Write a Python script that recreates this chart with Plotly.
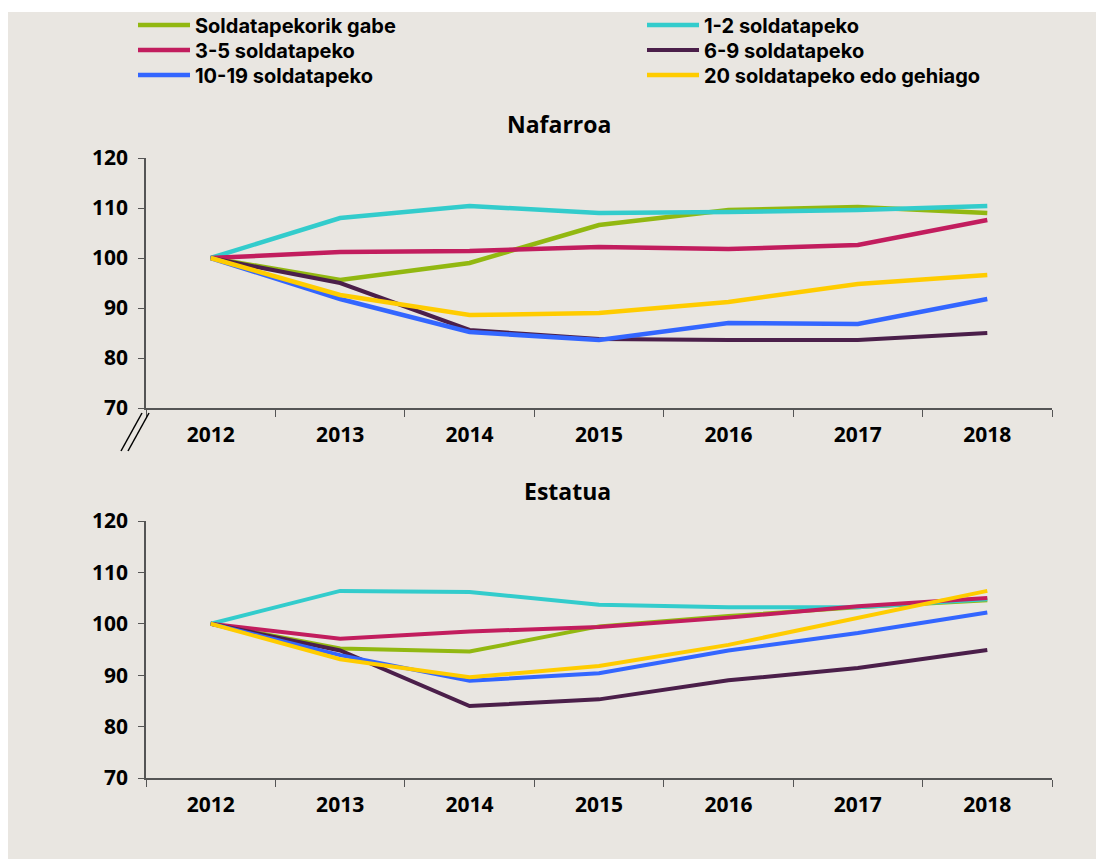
import plotly.graph_objects as go

years = ["2012", "2013", "2014", "2015", "2016", "2017", "2018"]

series_names = [
    "Soldatapekorik gabe",
    "1-2 soldatapeko",
    "3-5 soldatapeko",
    "6-9 soldatapeko",
    "10-19 soldatapeko",
    "20 soldatapeko edo gehiago",
]
series_colors = ["#92B811", "#33CCCC", "#C21D5E", "#4B1F4A", "#3366FF", "#FFCC00"]

nafarroa_gabe = [100, 95.6, 99.0, 106.6, 109.6, 110.2, 109.0]
nafarroa_1_2 = [100, 108.0, 110.4, 109.0, 109.2, 109.6, 110.4]
nafarroa_3_5 = [100, 101.2, 101.4, 102.2, 101.8, 102.6, 107.6]
nafarroa_6_9 = [100, 95.0, 85.6, 83.8, 83.6, 83.6, 85.0]
nafarroa_10_19 = [100, 91.8, 85.2, 83.6, 87.0, 86.8, 91.8]
nafarroa_20 = [100, 92.6, 88.6, 89.0, 91.2, 94.8, 96.6]

estatua_gabe = [100, 95.2, 94.6, 99.5, 101.5, 103.2, 104.6]
estatua_1_2 = [100, 106.4, 106.2, 103.7, 103.2, 103.2, 104.8]
estatua_3_5 = [100, 97.1, 98.5, 99.4, 101.2, 103.4, 105.0]
estatua_6_9 = [100, 94.8, 84.0, 85.3, 89.0, 91.4, 94.9]
estatua_10_19 = [100, 93.9, 88.9, 90.4, 94.8, 98.2, 102.2]
estatua_20 = [100, 93.1, 89.6, 91.8, 95.9, 101.1, 106.4]

nafarroa = [nafarroa_gabe, nafarroa_1_2, nafarroa_3_5, nafarroa_6_9, nafarroa_10_19, nafarroa_20]
estatua = [estatua_gabe, estatua_1_2, estatua_3_5, estatua_6_9, estatua_10_19, estatua_20]

panel_titles = ["Nafarroa", "Estatua"]
y_ticks = [70, 80, 90, 100, 110, 120]

# page offset (browser body margin) compensation
OFF = 8
W, H = 1104 - OFF, 859 - OFF
BG = "#E9E6E1"
FONT = "Open Sans"
LEGEND_FONT = "Inter"

def px(x):
    return (x - OFF) / W

def py(y):
    return 1 - (y - OFF) / H

# legend slot positions (page px): left x, row centre y
legend_ids = ["legend", "legend2", "legend3", "legend4", "legend5", "legend6"]
legend_x = [133, 642, 133, 642, 133, 642]
legend_y = [25, 25, 50, 50, 75, 75]

fig = go.Figure()

for i, (name, color) in enumerate(zip(series_names, series_colors)):
    lw = 4 if i == 3 else 4.5
    fig.add_trace(go.Scatter(x=years, y=nafarroa[i], name=name, mode="lines",
                             line=dict(color=color, width=lw), xaxis="x", yaxis="y",
                             legend=legend_ids[i], legendgroup=name))
for i, (name, color) in enumerate(zip(series_names, series_colors)):
    fig.add_trace(go.Scatter(x=years, y=estatua[i], name=name, mode="lines",
                             line=dict(color=color, width=4), xaxis="x2", yaxis="y2",
                             legendgroup=name, showlegend=False))

xdom = [px(146), px(1052)]
axis_font = dict(family=FONT, size=21, color="#000000", weight="bold")

xcommon = dict(type="category", domain=xdom, range=[-0.5, 6.5], tickson="boundaries",
               ticks="outside", ticklen=7, tickcolor="#555555", showline=True,
               linecolor="#555555", linewidth=1.5, showgrid=False, zeroline=False,
               tickfont=axis_font, ticklabelstandoff=7, fixedrange=True, automargin=False)
ycommon = dict(range=[70, 120], tickvals=y_ticks, ticks="outside", ticklen=6,
               tickcolor="#555555", showline=True, linecolor="#555555", linewidth=1.5,
               showgrid=False, zeroline=False, tickfont=axis_font, ticklabelstandoff=6,
               fixedrange=True, automargin=False)

legend_font = dict(family=LEGEND_FONT, size=20, color="#000000", weight="bold")
layout_legends = {}
for lid, lx, ly in zip(legend_ids, legend_x, legend_y):
    layout_legends[lid] = dict(orientation="v", x=px(lx), y=py(ly), xanchor="left",
                               yanchor="middle", itemwidth=52, font=legend_font,
                               bgcolor="rgba(0,0,0,0)", borderwidth=0)

fig.update_layout(
    width=W, height=H,
    margin=dict(l=0, r=0, t=0, b=0, autoexpand=False),
    paper_bgcolor="#FFFFFF",
    plot_bgcolor=BG,
    font=dict(family=FONT, color="#000000"),
    xaxis=dict(xcommon, anchor="y"),
    yaxis=dict(ycommon, domain=[py(408), py(158)], anchor="x"),
    xaxis2=dict(xcommon, anchor="y2"),
    yaxis2=dict(ycommon, domain=[py(778), py(521)], anchor="x2"),
    showlegend=True,
    **layout_legends,
)

shapes = [
    dict(type="rect", xref="paper", yref="paper", x0=0, x1=1, y0=0, y1=py(12),
         fillcolor=BG, line=dict(width=0), layer="below"),
    dict(type="line", xref="paper", yref="paper", x0=px(121), y0=py(451), x1=px(142), y1=py(413),
         line=dict(color="#000000", width=1.5)),
    dict(type="line", xref="paper", yref="paper", x0=px(128), y0=py(451), x1=px(149), y1=py(413),
         line=dict(color="#000000", width=1.5)),
]
fig.update_layout(shapes=shapes)

title_font = dict(family=FONT, size=23, color="#000000", weight="bold")
fig.add_annotation(text=panel_titles[0], xref="paper", yref="paper", x=px(613), y=py(124),
                   xanchor="right", yanchor="middle", showarrow=False, font=title_font)
fig.add_annotation(text=panel_titles[1], xref="paper", yref="paper", x=px(613), y=py(491),
                   xanchor="right", yanchor="middle", showarrow=False, font=title_font)

fig.write_html("out.html")
